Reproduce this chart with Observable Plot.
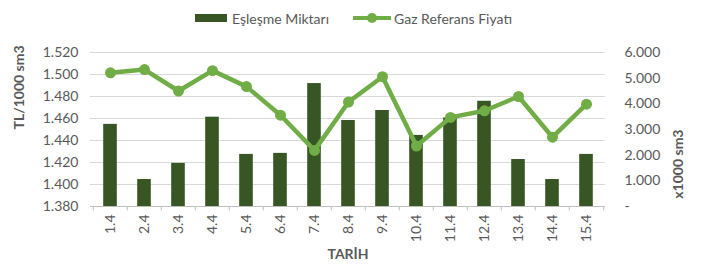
<!DOCTYPE html>
<html>
<head>
<meta charset="utf-8">
<script src="https://cdn.jsdelivr.net/npm/d3@7"></script>
<script src="https://cdn.jsdelivr.net/npm/@observablehq/plot@0.6"></script>
<style>
  body { margin: 0; background: #fff; font-family: Lato, "Open Sans", sans-serif; }
  #legend { height: 36px; display: flex; justify-content: center; align-items: center; font-size: 14px; color: #595959; padding-left: 6px; box-sizing: border-box; }
  .item { display: flex; align-items: center; margin: 0 12px; }
  .sw-bar { width: 32px; height: 8px; background: #375623; margin-right: 5px; }
  .sw-line { position: relative; width: 38px; height: 10px; margin-right: 3px; }
  .sw-line::before { content: ""; position: absolute; left: 0; right: 0; top: 3px; height: 4px; background: #70AD47; }
  .sw-line::after { content: ""; position: absolute; left: 14px; top: 0; width: 10px; height: 10px; border-radius: 50%; background: #70AD47; }
</style>
</head>
<body>
<div id="legend">
  <div class="item"><div class="sw-bar"></div><span>Eşleşme Miktarı</span></div>
  <div class="item"><div class="sw-line"></div><span>Gaz Referans Fiyatı</span></div>
</div>
<div id="chart"></div>
<script>
const dates = ["1.4","2.4","3.4","4.4","5.4","6.4","7.4","8.4","9.4","10.4","11.4","12.4","13.4","14.4","15.4"];
const volumes = [3200, 1050, 1680, 3480, 2030, 2070, 4790, 3350, 3740, 2770, 3450, 4100, 1830, 1050, 2030];
const prices = [1501.5, 1504.5, 1485, 1503.5, 1489, 1463, 1431, 1475, 1498, 1435, 1461, 1467, 1480, 1443, 1473];
const leftTicks = [1380, 1400, 1420, 1440, 1460, 1480, 1500, 1520];
const rightTicks = [0, 1000, 2000, 3000, 4000, 5000, 6000];

const yMin = 1380, yMax = 1520, rMax = 6000;
const toLeft = v => yMin + v * (yMax - yMin) / rMax;
const fromLeft = y => Math.round((y - yMin) * rMax / (yMax - yMin));
const fmt = v => v === 0 ? "-" : v.toLocaleString("de-DE");

const W = 701, H = 236, mL = 90, mR = 96, mT = 16, mB = 66;
const bw = (W - mL - mR) / dates.length;

const barData = dates.map((d, i) => ({date: d, v: volumes[i]}));
const lineData = dates.map((d, i) => ({date: d, p: prices[i]}));

const chart = Plot.plot({
  width: W, height: H,
  marginLeft: mL, marginRight: mR, marginTop: mT, marginBottom: mB,
  style: {fontFamily: "Lato, 'Open Sans', sans-serif", fontSize: "14px", color: "#595959", background: "#fff"},
  x: {type: "band", domain: dates, padding: 0},
  y: {domain: [yMin, yMax]},
  marks: [
    Plot.gridY(leftTicks.slice(1), {stroke: "#d9d9d9", strokeOpacity: 1}),
    Plot.ruleY([yMin], {stroke: "#bfbfbf"}),
    Plot.ruleX(dates, {x: d => d, dx: -bw / 2, y1: yMin, y2: yMin - 4, stroke: "#bfbfbf"}),
    Plot.ruleX(dates.slice(-1), {x: d => d, dx: bw / 2, y1: yMin, y2: yMin - 4, stroke: "#bfbfbf"}),
    Plot.barY(barData, {x: "date", y1: yMin, y2: d => toLeft(d.v), fill: "#375623", insetLeft: 10.2, insetRight: 10.2}),
    Plot.line(lineData, {x: "date", y: "p", stroke: "#70AD47", strokeWidth: 4.5, strokeLinejoin: "round"}),
    Plot.dot(lineData, {x: "date", y: "p", r: 5.5, fill: "#70AD47", stroke: "none"}),
    Plot.axisX({tickRotate: -90, tickSize: 0, tickPadding: 8, label: null, fontSize: 14}),
    Plot.axisY(leftTicks, {anchor: "left", tickSize: 0, tickPadding: 12, tickFormat: d => d.toLocaleString("de-DE", {minimumFractionDigits: 0}).replace(/^(\d)(\d{3})$/, "$1.$2"), label: null}),
    Plot.axisY(rightTicks.map(toLeft), {anchor: "right", tickSize: 0, tickPadding: 19, tickFormat: d => fmt(fromLeft(d)), label: null}),
    Plot.text(["TL/1000 sm3"], {frameAnchor: "left", dx: -71, rotate: -90, fontWeight: "bold", fill: "#595959", fontSize: 14}),
    Plot.text(["x1000 sm3"], {frameAnchor: "right", dx: 73, rotate: -90, fontWeight: "bold", fill: "#595959", fontSize: 14}),
    Plot.text(["TARİH"], {frameAnchor: "bottom", dy: 52, fontWeight: "bold", fill: "#595959", fontSize: 14})
  ]
});
document.getElementById("chart").appendChild(chart);
</script>
</body>
</html>
